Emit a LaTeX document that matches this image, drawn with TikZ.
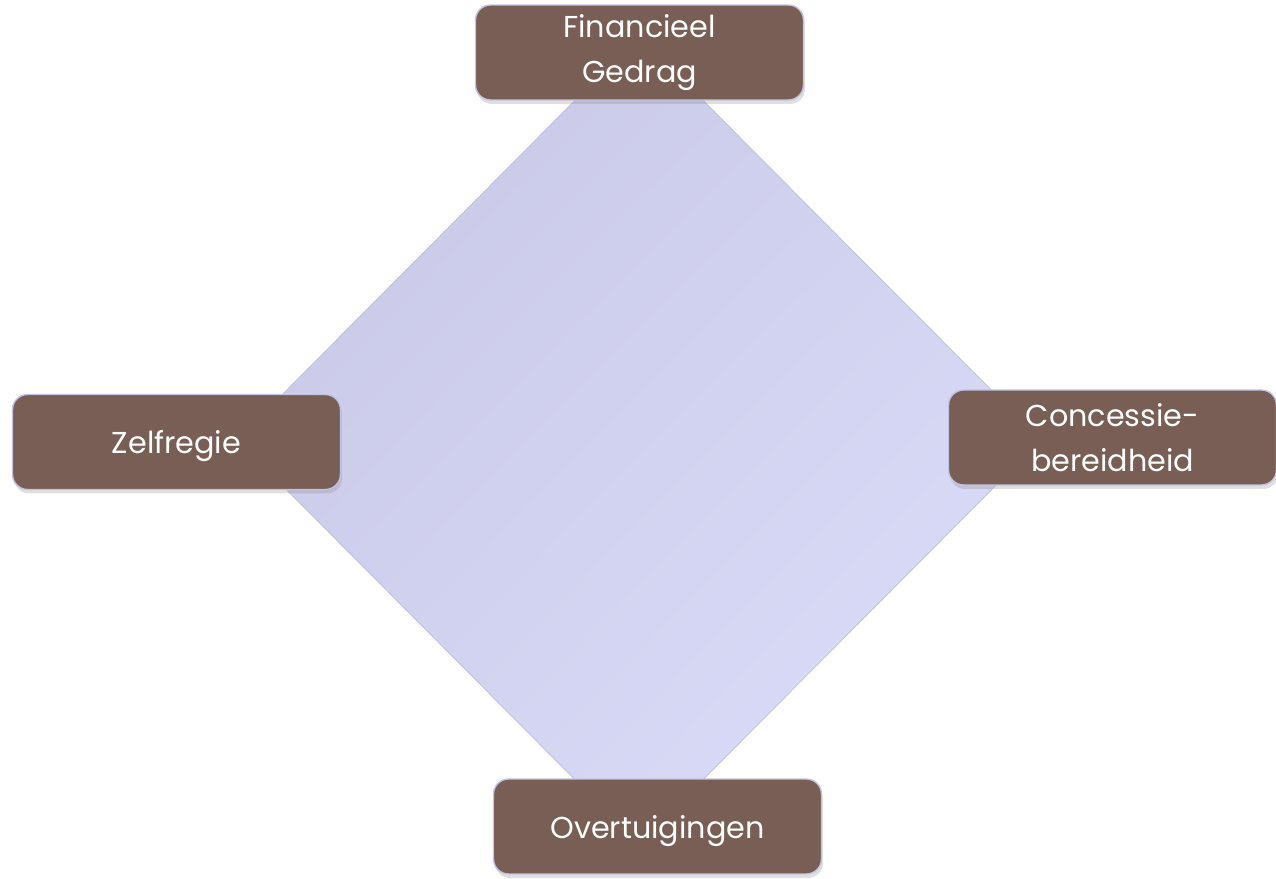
\documentclass[tikz,border=0pt]{standalone}
\usepackage{fontspec}
\setmainfont{Poppins}
\usetikzlibrary{shadows,shadings}
\definecolor{boxbrown}{RGB}{120,94,84}
\definecolor{boxedge}{RGB}{195,195,228}
\definecolor{diadark}{RGB}{198,198,228}
\definecolor{diamid}{RGB}{209,210,239}
\definecolor{dialight}{RGB}{221,223,251}
\definecolor{diaedge}{RGB}{188,188,226}
\begin{document}
\begin{tikzpicture}[x=0.02cm,y=-0.02cm,
    factor/.style={draw=boxedge, line width=0.8pt, fill=boxbrown, rounded corners=0.3cm,
      minimum width=6.56cm, minimum height=1.9cm, text=white, align=center,
      font=\fontsize{17.2}{25.5}\selectfont,
      execute at begin node={\rule{0pt}{18pt}},
      drop shadow={opacity=0.25, shadow xshift=0.03cm, shadow yshift=-0.08cm}}]
    \useasboundingbox (0,0) rectangle (1276,879);
    % corners of the diamond
    \foreach \i/\x/\y in {0/639/36, 1/1041/440, 2/639/844, 3/237/440}{
      \coordinate (d\i) at (\x, \y);
    }
    \shade[upper left=diadark, upper right=diamid, lower left=diamid, lower right=dialight]
      (d0) -- (d1) -- (d2) -- (d3) -- cycle;
    \draw[diaedge, thin] (d0) -- (d1) -- (d2) -- (d3) -- cycle;
    % the four factors
    \foreach \name/\x/\y/\txt in {gedrag/639.5/52.5/{Financieel\\Gedrag},
        concessie/1112.5/437.5/{Concessie-\\bereidheid},
        overtuiging/657.5/826.5/{Overtuigingen},
        zelfregie/176.5/442/{Zelfregie}}{
      \node[factor] (\name) at (\x, \y) {\txt};
    }
  \end{tikzpicture}
\end{document}
